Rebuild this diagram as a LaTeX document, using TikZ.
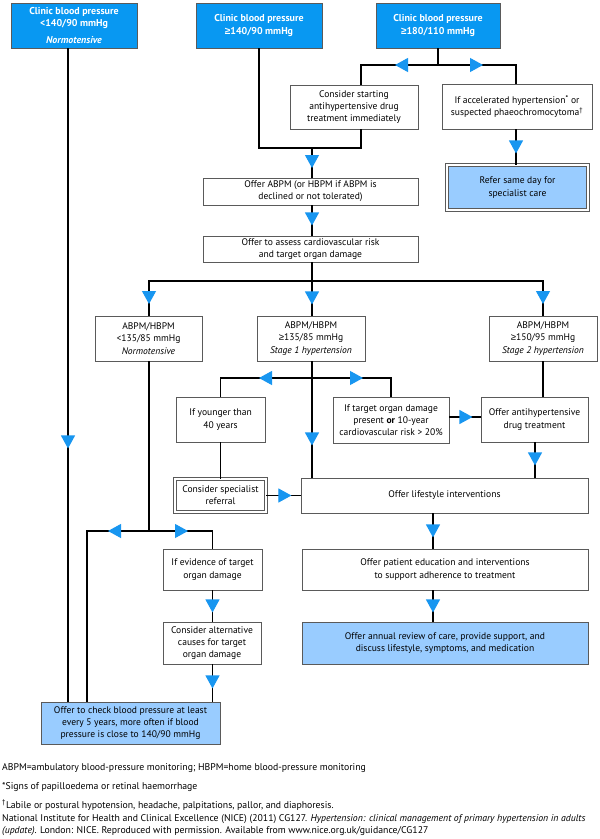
\documentclass[tikz,border=0pt]{standalone}
\usepackage{fontspec}
\setmainfont{PT Sans}
\newfontfamily\geqfont{Liberation Sans}
\newcommand{\mygeq}{{\geqfont ≥}}
\usetikzlibrary{arrows.meta,decorations.markings,calc}
\definecolor{topblue}{RGB}{8,152,242}
\definecolor{lightblue}{RGB}{153,204,255}
\definecolor{arrblue}{RGB}{24,150,240}
\definecolor{boxgray}{RGB}{90,90,90}
\tikzset{
  base/.style={draw=boxgray, line width=0.9bp, align=center, inner sep=1bp,
    font=\fontsize{9.6}{12.3}\selectfont},
  topbox/.style={base, fill=topblue, text=white, font=\fontsize{10}{12.4}\selectfont\bfseries},
  wbox/.style={base, fill=white},
  bbox/.style={base, fill=lightblue},
  dbox/.style={base, double=white, double distance=1.6bp, line width=0.8bp},
  conn/.style={draw=black, line width=1.1bp},
  tri/.style={postaction={decorate,decoration={markings,
     mark=at position #1 with {\arrow{Triangle[length=13bp,width=14bp,color=arrblue]}}}}},
  note/.style={anchor=west, inner sep=0pt, align=left, font=\fontsize{9.8}{12}\selectfont}
}
\begin{document}
\begin{tikzpicture}[x=1bp,y=-1bp]
\fill[white] (0,0) rectangle (600,839);
\useasboundingbox (0,0) rectangle (600,839);

% boxes
\node[topbox, minimum width=126bp, minimum height=45bp] (A) at (74,25.5)
  {Clinic blood pressure\\<140/90 mmHg\\[4bp]\itshape Normotensive};
\node[topbox, minimum width=126bp, minimum height=45bp] (B) at (259,25.5)
  {Clinic blood pressure\\\mygeq140/90 mmHg};
\node[topbox, minimum width=124bp, minimum height=45bp] (C) at (438,25.5)
  {Clinic blood pressure\\\mygeq180/110 mmHg};
\node[wbox, minimum width=128bp, minimum height=44bp] (cons) at (354,107)
  {Consider starting\\antihypertensive drug\\treatment immediately};
\node[wbox, minimum width=150bp, minimum height=45bp] (accel) at (517,106.5)
  {If accelerated hypertension\textsuperscript{\bfseries*} or\\suspected phaeochromocytoma\textsuperscript{†}};
\node[dbox, fill=lightblue, minimum width=141bp, minimum height=45bp] (refer) at (517.5,187.5)
  {Refer same day for\\specialist care};
\node[wbox, minimum width=215bp, minimum height=27bp] (abpm) at (310.5,191.5)
  {Offer ABPM (or HBPM if ABPM is\\declined or not tolerated)};
\node[wbox, minimum width=215bp, minimum height=26bp] (assess) at (310.5,249)
  {Offer to assess cardiovascular risk\\and target organ damage};
\node[wbox, minimum width=107bp, minimum height=45bp] (norm) at (148.5,338.5)
  {ABPM/HBPM\\<135/85 mmHg\\\textit{Normotensive}};
\node[wbox, minimum width=108bp, minimum height=45bp] (st1) at (311,338.5)
  {ABPM/HBPM\\\mygeq135/85 mmHg\\\textit{Stage 1 hypertension}};
\node[wbox, minimum width=108bp, minimum height=45bp] (st2) at (543,338.5)
  {ABPM/HBPM\\\mygeq150/95 mmHg\\\textit{Stage 2 hypertension}};
\node[wbox, minimum width=89bp, minimum height=45bp] (young) at (220.5,419.5)
  {If younger than\\40 years};
\node[wbox, minimum width=116bp, minimum height=46bp] (tod) at (391,420)
  {If target organ damage\\present \textbf{or} 10-year\\cardiovascular risk > 20\%};
\node[wbox, minimum width=107bp, minimum height=45bp] (anti) at (534.5,419.5)
  {Offer antihypertensive\\drug treatment};
\node[dbox, fill=white, minimum width=91bp, minimum height=33bp] (referral) at (220.5,495.5)
  {Consider specialist\\referral};
\node[wbox, minimum width=287bp, minimum height=35bp] (life) at (444.5,495.5)
  {Offer lifestyle interventions};
\node[wbox, minimum width=99bp, minimum height=41bp] (evid) at (212.5,569.5)
  {If evidence of target\\organ damage};
\node[wbox, minimum width=98bp, minimum height=42bp] (alt) at (212,643)
  {Consider alternative\\causes for target\\organ damage};
\node[bbox, minimum width=179bp, minimum height=42bp] (final) at (130.5,723)
  {Offer to check blood pressure at least\\every 5 years, more often if blood\\pressure is close to 140/90 mmHg};
\node[wbox, minimum width=286bp, minimum height=41bp] (edu) at (445,569.5)
  {Offer patient education and interventions\\to support adherence to treatment};
\node[bbox, minimum width=286bp, minimum height=42bp] (annual) at (445,643)
  {Offer annual review of care, provide support, and\\discuss lifestyle, symptoms, and medication};

% helper coordinates
\coordinate (xa) at (68,0);
\coordinate (j1) at (312,148);
\coordinate (jC) at (438,65);
\coordinate (xc) at (361,0);
\coordinate (xr) at (516,0);
\coordinate (j2) at (312,281);
\coordinate (x2) at (312,0);
\coordinate (j3) at (312,378);
\coordinate (ytod) at (0,417);
\coordinate (xanti) at (535,0);
\coordinate (xst2) at (543,0);
\coordinate (j4) at (149,531);
\coordinate (xf) at (87,0);
\coordinate (xl) at (433,0);

% connectors
\draw[conn, tri=400bp] (A.south -| xa) -- (final.north -| xa);
\draw[conn] (B.south) |- (j1);
\draw[conn] (cons.south -| xc) |- (j1);
\draw[conn, tri=20bp] (j1) -- (abpm.north -| j1);
\draw[conn] (C.south) -- (jC);
\draw[conn, tri=43bp] (jC) -| (cons.north -| xc);
\draw[conn, tri=45bp] (jC) -| (accel.north -| xr);
\draw[conn, tri=24bp] (accel.south -| xr) -- (refer.north -| xr);
\draw[conn, tri=20bp] (abpm.south -| x2) -- (assess.north -| x2);
\draw[conn, tri=42bp] (assess.south -| x2) -- (st1.north -| x2);
\draw[conn, tri=186bp] (j2) -| (norm.north -| j4);
\draw[conn, tri=254bp] (j2) -| (st2.north -| xst2);
\draw[conn, tri=84bp] (st1.south -| x2) -- (life.north -| x2);
\draw[conn, tri=53bp] (j3) -| (young.north);
\draw[conn, tri=51bp] (j3) -| (tod.north);
\draw[conn] (young.south) -- (referral.north);
\draw[conn, tri=25bp] (referral.east) -- (life.west);
\draw[conn, tri=23bp] (tod.east |- ytod) -- (anti.west |- ytod);
\draw[conn] (st2.south -| xst2) -- (anti.north -| xst2);
\draw[conn, tri=23bp] (anti.south -| xanti) -- (life.north -| xanti);
\draw[conn] (norm.south -| j4) -- (j4);
\draw[conn, tri=41bp] (j4) -| (final.north -| xf);
\draw[conn, tri=39bp] (j4) -| (evid.north);
\draw[conn, tri=22bp] (evid.south) -- (alt.north -| evid.south);
\draw[conn, tri=24bp] (alt.south -| evid.south) -- (final.north -| evid.south);
\draw[conn, tri=24bp] (life.south -| xl) -- (edu.north -| xl);
\draw[conn, tri=22bp] (edu.south -| xl) -- (annual.north -| xl);

% footnotes
\node[note] (n1) at (2,768) {ABPM=ambulatory blood-pressure monitoring; HBPM=home blood-pressure monitoring};
\node[note] (n2) at (2,787) {*Signs of papilloedema or retinal haemorrhage};
\node[note] (n3) at (2,805) {\textsuperscript{†}Labile or postural hypotension, headache, palpitations, pallor, and diaphoresis.};
\node[note] (n4) at (2,825) {National Institute for Health and Clinical Excellence (NICE) (2011) CG127. \textit{Hypertension: clinical management of primary hypertension in adults}\\\textit{(update)}. London: NICE. Reproduced with permission. Available from www.nice.org.uk/guidance/CG127};
\end{tikzpicture}
\end{document}
